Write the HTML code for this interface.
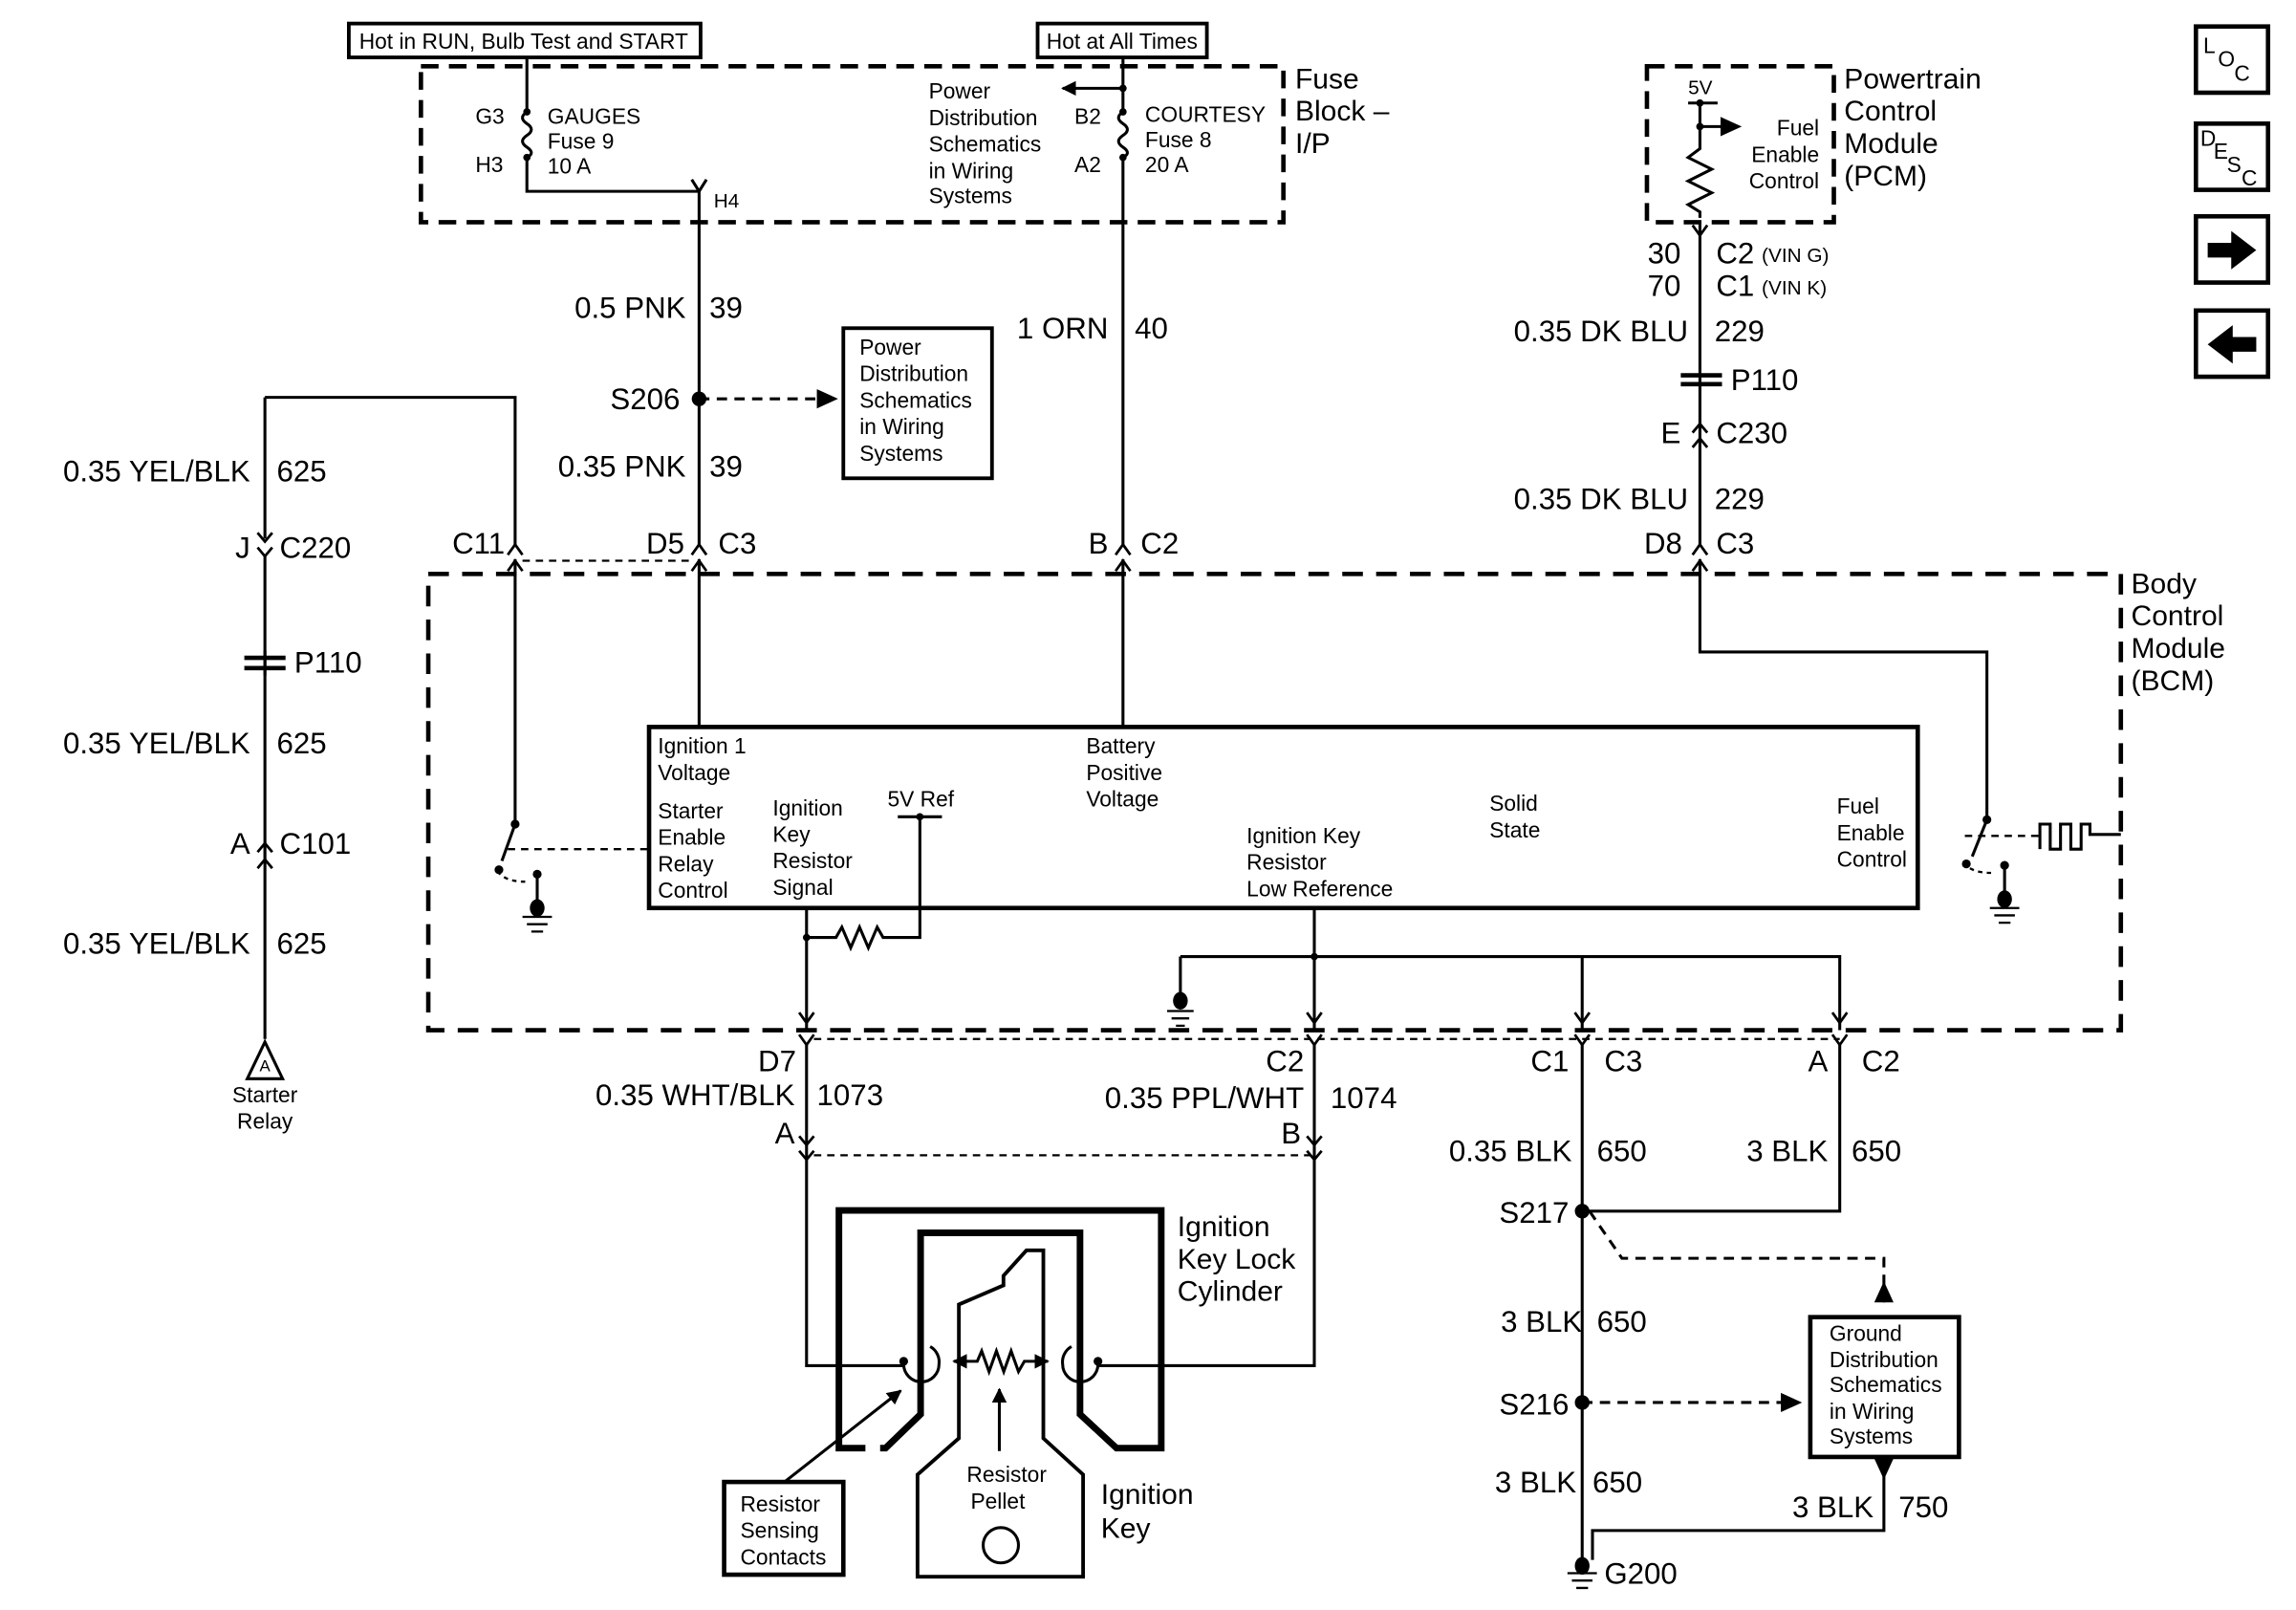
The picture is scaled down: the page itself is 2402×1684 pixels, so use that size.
<!DOCTYPE html>
<html><head><meta charset="utf-8"><style>
html,body{margin:0;padding:0;background:#fff;}
svg{display:block;}
text{font-family:"Liberation Sans",Arial,sans-serif;fill:#000;}
.w{font-size:20.3px;}
.s{font-size:14.8px;}
.m{font-size:13.5px;}
.l{font-size:19.5px;}
</style></head><body>
<svg width="2402" height="1684" viewBox="0 0 1560 1094" preserveAspectRatio="none" xmlns="http://www.w3.org/2000/svg">
<defs>
<marker id="ah" markerWidth="10" markerHeight="10" refX="9" refY="5" orient="auto" markerUnits="userSpaceOnUse"><path d="M0,0 L10,5 L0,10 z" fill="#000"/></marker>
</defs>
<g stroke="#000" fill="none" stroke-width="2">
<rect x="237" y="16" width="239" height="23" stroke-width="2.5"/>
<rect x="705" y="16" width="115" height="23" stroke-width="2.5"/>
<rect x="286" y="45" width="586" height="106" stroke-width="3" stroke-dasharray="12,7"/>
<path d="M358,39 V76 M358,107 V130 H475 M475,130 V370"/>
<path d="M358,76 q-6,4 0,8 q6,4 0,8 q-6,4 0,8 q6,4 0,7"/>
<path d="M470,122 L475,130 L480,122"/>
<path d="M763,39 V76 M763,107 V370"/>
<path d="M763,60 H722" marker-end="url(#ah)"/>
<path d="M763,76 q-6,4 0,8 q6,4 0,8 q-6,4 0,8 q6,4 0,7"/>
<path d="M475,271 H558" stroke-dasharray="7,5"/>
<path d="M556,266 L567,271 L556,276 z" fill="#000"/>
<rect x="573" y="223" width="101" height="102" stroke-width="2.5"/>
<path d="M180,270 H350 V370 M180,270 V366 M180,378 V706"/>
<path d="M355,381 H470" stroke-dasharray="5,4" stroke-width="1.5"/>
<path d="M166,447 H194 M166,454 H194" stroke-width="3"/>
<path d="M180,442 V459"/>
<path d="M180,708 L168,733 L192,733 z"/>
<rect x="291" y="390" width="1150" height="310" stroke-width="3" stroke-dasharray="14,9"/>
<rect x="441" y="494" width="862" height="123" stroke-width="3"/>
<path d="M475,380 V494 M763,380 V494"/>
<path d="M350,380 V560"/>
<path d="M350,560 L341,585"/>
<path d="M345,577 H441" stroke-dasharray="5,4" stroke-width="1.5"/>
<path d="M338,592 q6,8 22,7" stroke-dasharray="3,3" stroke-width="1.5"/>
<path d="M365,594 V612"/>
<path d="M355,623 H375 M358,628 H372 M361,633 H369" stroke-width="1.5"/>
<path d="M1155,150 V370 M1155,380 V443 H1350 V555"/>
<path d="M1350,557 L1340,582"/>
<path d="M1335,568 H1388" stroke-dasharray="5,4" stroke-width="1.5"/>
<path d="M1334,586 q6,8 22,7" stroke-dasharray="3,3" stroke-width="1.5"/>
<path d="M1362,588 V606"/>
<path d="M1352,617 H1372 M1355,622 H1369 M1358,627 H1366" stroke-width="1.5"/>
<path d="M1386,577 V560 H1393 V577 H1400 V560 H1407 V577 H1414 V560 H1420 V567 H1441"/>
<path d="M548,617 V700 M548,637 H568 l4,-7 l6,14 l6,-14 l6,14 l6,-14 l4,7 H625 V555 M610,555 H640"/>
<path d="M893,617 V700 M802,650 H1250 V700 M802,650 V676 M1075,650 V700"/>
<path d="M793,687 H811 M796,692 H808 M799,697 H805" stroke-width="1.5"/>
<path d="M553,706 H1250" stroke-dasharray="5,4" stroke-width="1.5"/>
<path d="M548,710 V928 H614 M893,710 V928 H746"/>
<path d="M553,785 H893" stroke-dasharray="5,4" stroke-width="1.5"/>
<!-- cylinder -->
<path d="M588,984 H570 V822.5 H789 V984 H758.6 L733.8,961 V837.7 H625.5 V961 L601.7,984 H598" stroke-width="4.5"/>
<path d="M623.4,1071.4 V1002 L651.5,977.3 V886.4 L681.8,873.4 V866.9 L697.4,849.6 H708.9 V977.3 L735.9,1002 V1071.4 Z" stroke-width="2.5"/>
<circle cx="680" cy="1050" r="12"/>
<path d="M614,927 a12,12 0 0 0 24,0 a12,12 0 0 0 -6,-12"/>
<path d="M746,927 a12,12 0 0 1 -24,0 a12,12 0 0 1 6,-12"/>
<path d="M651,925 H664 l3,-7 l5,14 l5,-14 l5,14 l5,-14 l5,14 l4,-7 H708"/>
<path d="M651,925 H648" marker-end="url(#ah)"/>
<path d="M708,925 H712" marker-end="url(#ah)"/>
<path d="M679,986 V944" marker-end="url(#ah)"/>
<path d="M533,1007 L612,945" marker-end="url(#ah)"/>
<rect x="492" y="1007" width="81" height="63" stroke-width="3"/>
<rect x="1119" y="45" width="127" height="106" stroke-width="3" stroke-dasharray="12,7"/>
<path d="M1147,70 H1167 M1155,70 V101 l-8,6 l16,8 l-16,8 l16,8 l-16,8 l8,5 V148 M1155,86 H1172"/>
<path d="M1170,81 L1181,86 L1170,91 z" fill="#000"/>
<path d="M1142,255 H1170 M1142,261 H1170" stroke-width="3"/>
<path d="M1075,710 V1062 M1250,710 V823 H1075"/>
<path d="M1080,823 L1102,855 H1280 V885" stroke-dasharray="7,5"/>
<path d="M1275,884 L1280,873 L1285,884 z" fill="#000"/>
<path d="M1075,953 H1212" stroke-dasharray="7,5"/>
<path d="M1211,948 L1222,953 L1211,958 z" fill="#000"/>
<rect x="1230" y="895" width="101" height="95" stroke-width="3"/>
<path d="M1275,992 L1280,1003 L1285,992 z" fill="#000"/>
<path d="M1280,1000 V1040 H1082 V1060"/>
<path d="M1065,1069 H1085 M1068,1074 H1082 M1071,1079 H1079" stroke-width="1.5"/>
<rect x="1492" y="18" width="49" height="45" stroke-width="3"/>
<rect x="1492" y="84" width="49" height="45" stroke-width="3"/>
<rect x="1492" y="147" width="49" height="45" stroke-width="3"/>
<rect x="1492" y="211" width="49" height="45" stroke-width="3"/>
</g>
<g fill="#000">
<circle cx="358" cy="76" r="2.5"/><circle cx="358" cy="107" r="2.5"/>
<circle cx="763" cy="76" r="2.5"/><circle cx="763" cy="107" r="2.5"/><circle cx="763" cy="60" r="2.5"/>
<circle cx="475" cy="271" r="5"/>
<circle cx="350" cy="560" r="3"/><circle cx="339" cy="591" r="3"/><circle cx="365" cy="594" r="3"/>
<ellipse cx="365" cy="617" rx="5" ry="6"/>
<circle cx="1350" cy="557" r="3"/><circle cx="1336" cy="587" r="3"/><circle cx="1362" cy="588" r="3"/>
<ellipse cx="1362" cy="611" rx="5" ry="6"/>
<ellipse cx="802" cy="680" rx="5" ry="6"/>
<circle cx="625" cy="555" r="2.5"/><circle cx="548" cy="637" r="2.5"/><circle cx="893" cy="650" r="2.5"/>
<circle cx="1155" cy="70" r="2.5"/><circle cx="1155" cy="86" r="2.5"/>
<circle cx="1075" cy="823" r="5"/><circle cx="1075" cy="953" r="5"/>
<ellipse cx="1075" cy="1064" rx="5" ry="6"/>
<circle cx="614" cy="925" r="3"/><circle cx="746" cy="925" r="3"/>
<path d="M1500,165 H1516 V157 L1533,170 L1516,183 V175 H1500 Z"/>
<path d="M1533,229 H1517 V221 L1500,234 L1517,247 V239 H1533 Z"/>
</g>
<g stroke="#000" fill="none" stroke-width="1.8">
<path d="M345,377 L350,370 L355,377 M345,388 L350,381 L355,388"/>
<path d="M470,377 L475,370 L480,377 M470,388 L475,381 L480,388"/>
<path d="M758,377 L763,370 L768,377 M758,388 L763,381 L768,388"/>
<path d="M1150,377 L1155,370 L1160,377 M1150,388 L1155,381 L1160,388"/>
<path d="M175,362 L180,368 L185,362 M175,372 L180,378 L185,372"/>
<path d="M175,579 L180,573 L185,579 M175,590 L180,584 L185,590 M180,573 V584"/>
<path d="M1150,294 L1155,288 L1160,294 M1150,304 L1155,298 L1160,304"/>
<path d="M1150,153 L1155,160 L1160,153"/>
<path d="M543,688 L548,695 L553,688 M543,703 L548,710 L553,703"/>
<path d="M888,688 L893,695 L898,688 M888,703 L893,710 L898,703"/>
<path d="M1070,688 L1075,695 L1080,688 M1070,703 L1075,710 L1080,703"/>
<path d="M1245,688 L1250,695 L1255,688 M1245,703 L1250,710 L1255,703"/>
<path d="M543,772 L548,778 L553,772 M543,782 L548,788 L553,782"/>
<path d="M888,772 L893,778 L898,772 M888,782 L893,788 L898,782"/>
</g>
<text x="244" y="33" class="s">Hot in RUN, Bulb Test and START</text>
<text x="711" y="33" class="s">Hot at All Times</text>
<text x="880" y="60" class="l">Fuse</text><text x="880" y="82" class="l">Block –</text><text x="880" y="104" class="l">I/P</text>
<text x="323" y="84" class="s">G3</text><text x="323" y="117" class="s">H3</text>
<text x="372" y="84" class="s">GAUGES</text><text x="372" y="101" class="s">Fuse 9</text><text x="372" y="118" class="s">10 A</text>
<text x="485" y="141" class="m">H4</text>
<text x="631" y="67" class="s">Power</text><text x="631" y="85" class="s">Distribution</text><text x="631" y="103" class="s">Schematics</text><text x="631" y="121" class="s">in Wiring</text><text x="631" y="138" class="s">Systems</text>
<text x="730" y="84" class="s">B2</text><text x="730" y="117" class="s">A2</text>
<text x="778" y="83" class="s">COURTESY</text><text x="778" y="100" class="s">Fuse 8</text><text x="778" y="117" class="s">20 A</text>
<text x="466" y="216" class="w" text-anchor="end">0.5 PNK</text><text x="482" y="216" class="w">39</text>
<text x="462" y="278" class="w" text-anchor="end">S206</text>
<text x="584" y="241" class="s">Power</text><text x="584" y="259" class="s">Distribution</text><text x="584" y="277" class="s">Schematics</text><text x="584" y="295" class="s">in Wiring</text><text x="584" y="313" class="s">Systems</text>
<text x="466" y="324" class="w" text-anchor="end">0.35 PNK</text><text x="482" y="324" class="w">39</text>
<text x="753" y="230" class="w" text-anchor="end">1 ORN</text><text x="771" y="230" class="w">40</text>
<text x="170" y="327" class="w" text-anchor="end">0.35 YEL/BLK</text><text x="188" y="327" class="w">625</text>
<text x="170" y="379" class="w" text-anchor="end">J</text><text x="190" y="379" class="w">C220</text>
<text x="200" y="457" class="w">P110</text>
<text x="170" y="512" class="w" text-anchor="end">0.35 YEL/BLK</text><text x="188" y="512" class="w">625</text>
<text x="170" y="580" class="w" text-anchor="end">A</text><text x="190" y="580" class="w">C101</text>
<text x="170" y="648" class="w" text-anchor="end">0.35 YEL/BLK</text><text x="188" y="648" class="w">625</text>
<text x="180" y="728" class="m" text-anchor="middle" style="font-size:11px">A</text>
<text x="180" y="749" class="s" text-anchor="middle">Starter</text><text x="180" y="767" class="s" text-anchor="middle">Relay</text>
<text x="343" y="376" class="w" text-anchor="end">C11</text>
<text x="465" y="376" class="w" text-anchor="end">D5</text><text x="488" y="376" class="w">C3</text>
<text x="753" y="376" class="w" text-anchor="end">B</text><text x="775" y="376" class="w">C2</text>
<text x="1143" y="376" class="w" text-anchor="end">D8</text><text x="1166" y="376" class="w">C3</text>
<text x="1448" y="403" class="l">Body</text><text x="1448" y="425" class="l">Control</text><text x="1448" y="447" class="l">Module</text><text x="1448" y="469" class="l">(BCM)</text>
<text x="447" y="512" class="s">Ignition 1</text><text x="447" y="530" class="s">Voltage</text>
<text x="447" y="556" class="s">Starter</text><text x="447" y="574" class="s">Enable</text><text x="447" y="592" class="s">Relay</text><text x="447" y="610" class="s">Control</text>
<text x="525" y="554" class="s">Ignition</text><text x="525" y="572" class="s">Key</text><text x="525" y="590" class="s">Resistor</text><text x="525" y="608" class="s">Signal</text>
<text x="603" y="548" class="s">5V Ref</text>
<text x="738" y="512" class="s">Battery</text><text x="738" y="530" class="s">Positive</text><text x="738" y="548" class="s">Voltage</text>
<text x="847" y="573" class="s">Ignition Key</text><text x="847" y="591" class="s">Resistor</text><text x="847" y="609" class="s">Low Reference</text>
<text x="1012" y="551" class="s">Solid</text><text x="1012" y="569" class="s">State</text>
<text x="1248" y="553" class="s">Fuel</text><text x="1248" y="571" class="s">Enable</text><text x="1248" y="589" class="s">Control</text>
<text x="541" y="728" class="w" text-anchor="end">D7</text>
<text x="886" y="728" class="w" text-anchor="end">C2</text>
<text x="1066" y="728" class="w" text-anchor="end">C1</text><text x="1090" y="728" class="w">C3</text>
<text x="1242" y="728" class="w" text-anchor="end">A</text><text x="1265" y="728" class="w">C2</text>
<text x="540" y="751" class="w" text-anchor="end">0.35 WHT/BLK</text><text x="555" y="751" class="w">1073</text>
<text x="540" y="777" class="w" text-anchor="end">A</text>
<text x="886" y="753" class="w" text-anchor="end">0.35 PPL/WHT</text><text x="904" y="753" class="w">1074</text>
<text x="884" y="777" class="w" text-anchor="end">B</text>
<text x="800" y="840" class="l">Ignition</text><text x="800" y="862" class="l">Key Lock</text><text x="800" y="884" class="l">Cylinder</text>
<text x="748" y="1022" class="l">Ignition</text><text x="748" y="1045" class="l">Key</text>
<text x="684" y="1007" class="s" text-anchor="middle">Resistor</text><text x="678" y="1025" class="s" text-anchor="middle">Pellet</text>
<text x="503" y="1027" class="s">Resistor</text><text x="503" y="1045" class="s">Sensing</text><text x="503" y="1063" class="s">Contacts</text>
<text x="1253" y="60" class="l">Powertrain</text><text x="1253" y="82" class="l">Control</text><text x="1253" y="104" class="l">Module</text><text x="1253" y="126" class="l">(PCM)</text>
<text x="1147" y="64" class="m">5V</text>
<text x="1236" y="92" class="s" text-anchor="end">Fuel</text><text x="1236" y="110" class="s" text-anchor="end">Enable</text><text x="1236" y="128" class="s" text-anchor="end">Control</text>
<text x="1142" y="179" class="w" text-anchor="end">30</text><text x="1166" y="179" class="w">C2</text><text x="1197" y="178" class="m">(VIN G)</text>
<text x="1142" y="201" class="w" text-anchor="end">70</text><text x="1166" y="201" class="w">C1</text><text x="1197" y="200" class="m">(VIN K)</text>
<text x="1147" y="232" class="w" text-anchor="end">0.35 DK BLU</text><text x="1165" y="232" class="w">229</text>
<text x="1176" y="265" class="w">P110</text>
<text x="1142" y="301" class="w" text-anchor="end">E</text><text x="1166" y="301" class="w">C230</text>
<text x="1147" y="346" class="w" text-anchor="end">0.35 DK BLU</text><text x="1165" y="346" class="w">229</text>
<text x="1068" y="789" class="w" text-anchor="end">0.35 BLK</text><text x="1085" y="789" class="w">650</text>
<text x="1242" y="789" class="w" text-anchor="end">3 BLK</text><text x="1258" y="789" class="w">650</text>
<text x="1066" y="831" class="w" text-anchor="end">S217</text>
<text x="1075" y="905" class="w" text-anchor="end">3 BLK</text><text x="1085" y="905" class="w">650</text>
<text x="1066" y="961" class="w" text-anchor="end">S216</text>
<text x="1071" y="1014" class="w" text-anchor="end">3 BLK</text><text x="1082" y="1014" class="w">650</text>
<text x="1273" y="1031" class="w" text-anchor="end">3 BLK</text><text x="1290" y="1031" class="w">750</text>
<text x="1090" y="1076" class="w">G200</text>
<text x="1243" y="911" class="s">Ground</text><text x="1243" y="929" class="s">Distribution</text><text x="1243" y="946" class="s">Schematics</text><text x="1243" y="964" class="s">in Wiring</text><text x="1243" y="981" class="s">Systems</text>
<text x="1497" y="36" class="s">L</text><text x="1507" y="45" class="s">O</text><text x="1518" y="55" class="s">C</text>
<text x="1495" y="99" class="s">D</text><text x="1504" y="108" class="s">E</text><text x="1513" y="117" class="s">S</text><text x="1523" y="126" class="s">C</text>
</svg>
</body></html>
